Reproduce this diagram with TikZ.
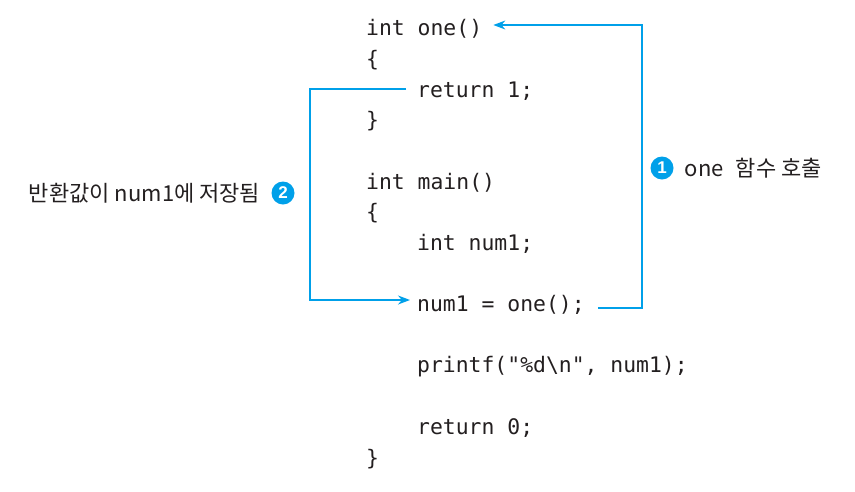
\documentclass[tikz,border=0pt]{standalone}
\usepackage{fontspec}
\setmonofont{DejaVu Sans Mono}
\newfontfamily\kofont{Noto Sans CJK KR}
\newfontfamily\numfont{Liberation Sans}
\usetikzlibrary{arrows.meta,positioning}
\definecolor{callblue}{RGB}{0,160,233}
\definecolor{ink}{RGB}{35,31,32}

\begin{document}
\begin{tikzpicture}[x=1pt,y=-1pt,>={Stealth[length=12pt,width=9pt]},
                    node distance=11pt]

  \tikzstyle{code}=[anchor=west,inner sep=0pt,text height=16pt,text depth=0pt,
                    font=\fontsize{21.4}{25}\selectfont\ttfamily,text=ink]
  \tikzstyle{num}=[circle,fill=callblue,text=white,inner sep=0pt,minimum size=23pt,
                   font=\fontsize{17}{17}\selectfont\numfont\bfseries]
  \tikzstyle{note}=[inner sep=0pt,text=ink,font=\fontsize{22}{26}\selectfont\kofont]
  \tikzstyle{link}=[draw=callblue,line width=1.3pt]

  \useasboundingbox (0,0) rectangle (855,491);

  % function one
  \node[code] (one)    at (366,27)  {int one()};
  \node[code] (lb1)    at (366,58)  {\{};
  \node[code] (ret)    at (417,89)  {return 1;};
  \node[code] (rb1)    at (366,119) {\}};

  % function main
  \node[code] (main)   at (366,181) {int main()};
  \node[code] (lb2)    at (366,211) {\{};
  \node[code] (decl)   at (417,242) {int num1;};
  \node[code] (assign) at (417,303) {num1 = one();};
  \node[code] (print)  at (417,364) {printf("\%d\textbackslash n", num1);};
  \node[code] (ret0)   at (417,426) {return 0;};
  \node[code] (rb2)    at (366,457) {\}};

  % call and return
  \node[num]  (n1) at (662,168) {1};
  \node[note] (callnote) [right=of n1] {one\hspace{12pt}함수 호출};
  \node[num]  (n2) at (283,193) {2};
  \node[note] (retnote)  [left=of n2]  {반환값이 num1에 저장됨};

  \draw[link,->,shorten <=13pt,shorten >=11pt]
    ([yshift=-5pt]assign.east) -- ++(57,0) |- ([yshift=2pt]one.east);
  \draw[link,->,shorten <=11pt,shorten >=7pt]
    (ret.west) -- ++(-107,0) |- ([yshift=3pt]assign.west);

\end{tikzpicture}
\end{document}
